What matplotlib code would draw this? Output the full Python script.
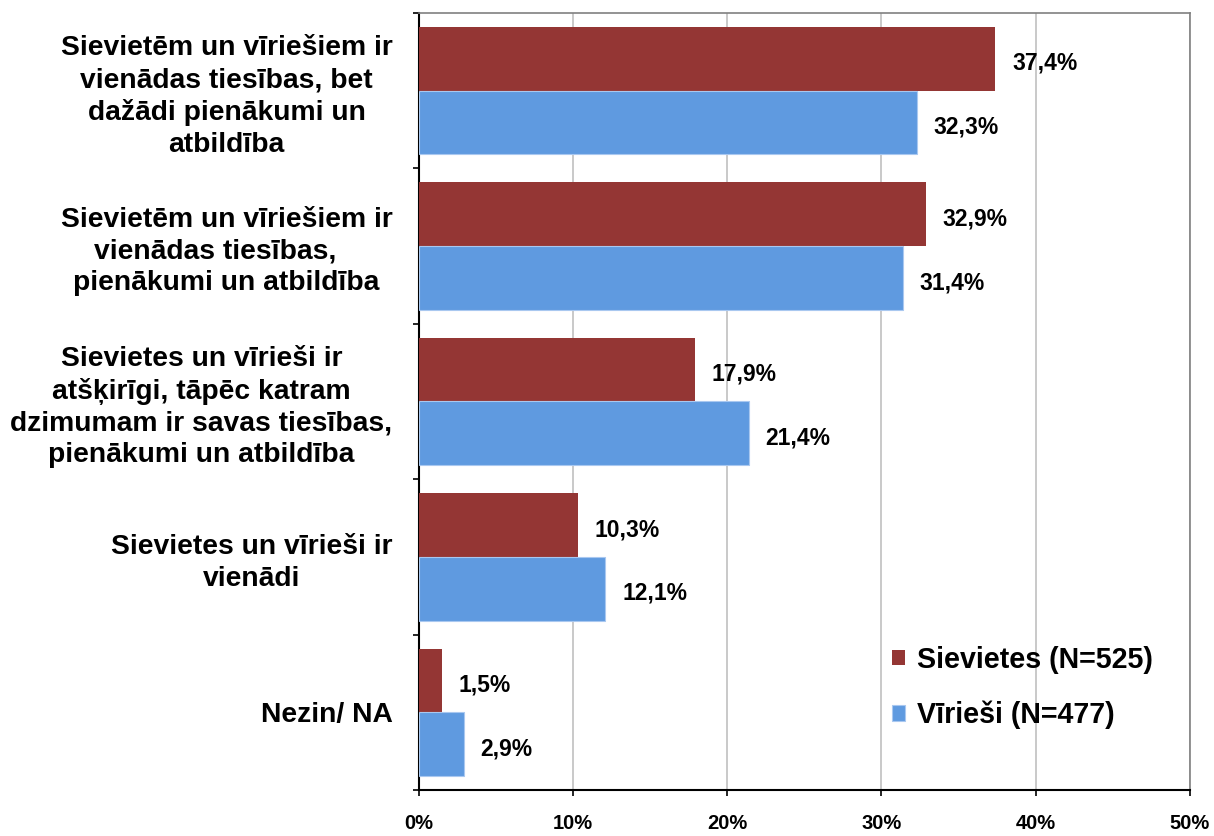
import numpy as np
import matplotlib.pyplot as plt
from matplotlib.ticker import FixedLocator

plt.rcParams['font.family'] = ['Liberation Sans', 'DejaVu Sans']
plt.rcParams['font.weight'] = 'bold'

categories = [
    "Sievietēm un vīriešiem ir\nvienādas tiesības, bet\ndažādi pienākumi un\natbildība",
    "Sievietēm un vīriešiem ir\nvienādas tiesības,   \npienākumi un atbildība",
    "Sievietes un vīrieši ir\natšķirīgi, tāpēc katram\ndzimumam ir savas tiesības,\npienākumi un atbildība",
    "Sievietes un vīrieši ir\nvienādi",
    "Nezin/ NA",
]
women = [37.4, 32.9, 17.9, 10.3, 1.5]
men = [32.3, 31.4, 21.4, 12.1, 2.9]
series_names = ["Sievietes (N=525)", "Vīrieši (N=477)"]
xticks = [0, 10, 20, 30, 40, 50]

red = "#943634"
blue = "#5F9AE0"

fig = plt.figure(figsize=(12.14, 8.36), dpi=100)
ax = fig.add_axes([0.345, 0.055, 0.635, 0.9295])

y = np.arange(len(categories))
h = 0.41
ax.barh(y - h / 2, women, height=h, color=red, label=series_names[0], zorder=3)
ax.barh(y + h / 2, men, height=h, color=blue, edgecolor="#A9C8F0", linewidth=0.8,
        label=series_names[1], zorder=3)

# value labels next to bar ends
for vals, pos in [(women, y - h / 2), (men, y + h / 2)]:
    for yi, v in zip(pos, vals):
        ax.annotate(f"{v:.1f}%".replace(".", ","), (v, yi + 0.03), xytext=(12, 0),
                    textcoords="offset points", va="center", ha="left",
                    fontsize=16.5, fontweight="bold")

ax.set_xlim(0, 50)
ax.set_ylim(len(categories) - 0.5, -0.5)
ax.set_xticks(xticks)
ax.set_xticklabels([f"{t}%" for t in xticks], fontsize=14.5, fontweight="bold")
ax.tick_params(axis="x", direction="out", length=4, width=1.2, pad=13, color="black")

ax.yaxis.set_major_locator(FixedLocator(y))
ax.set_yticklabels(categories, fontsize=20.3, fontweight="bold",
                   multialignment="center", linespacing=1.28)
ax.tick_params(axis="y", which="major", length=0, pad=19)
ax.yaxis.set_minor_locator(FixedLocator(np.arange(-0.5, len(categories), 1)))
ax.tick_params(axis="y", which="minor", direction="out", length=4.5, width=1.2)

ax.grid(axis="x", color="#C0C0C0", linewidth=1.2, zorder=0)
ax.set_axisbelow(True)
for s in ["top", "right"]:
    ax.spines[s].set_color("#808080")
    ax.spines[s].set_linewidth(1.2)
for s in ["left", "bottom"]:
    ax.spines[s].set_color("black")
    ax.spines[s].set_linewidth(1.5)

leg = ax.legend(loc="lower right", bbox_to_anchor=(0.985, 0.045), frameon=False,
                prop={"size": 20.6, "weight": "bold"}, handlelength=0.45,
                handleheight=0.45, handletextpad=0.4, labelspacing=0.95)

fig.savefig("out.png", dpi=100)
